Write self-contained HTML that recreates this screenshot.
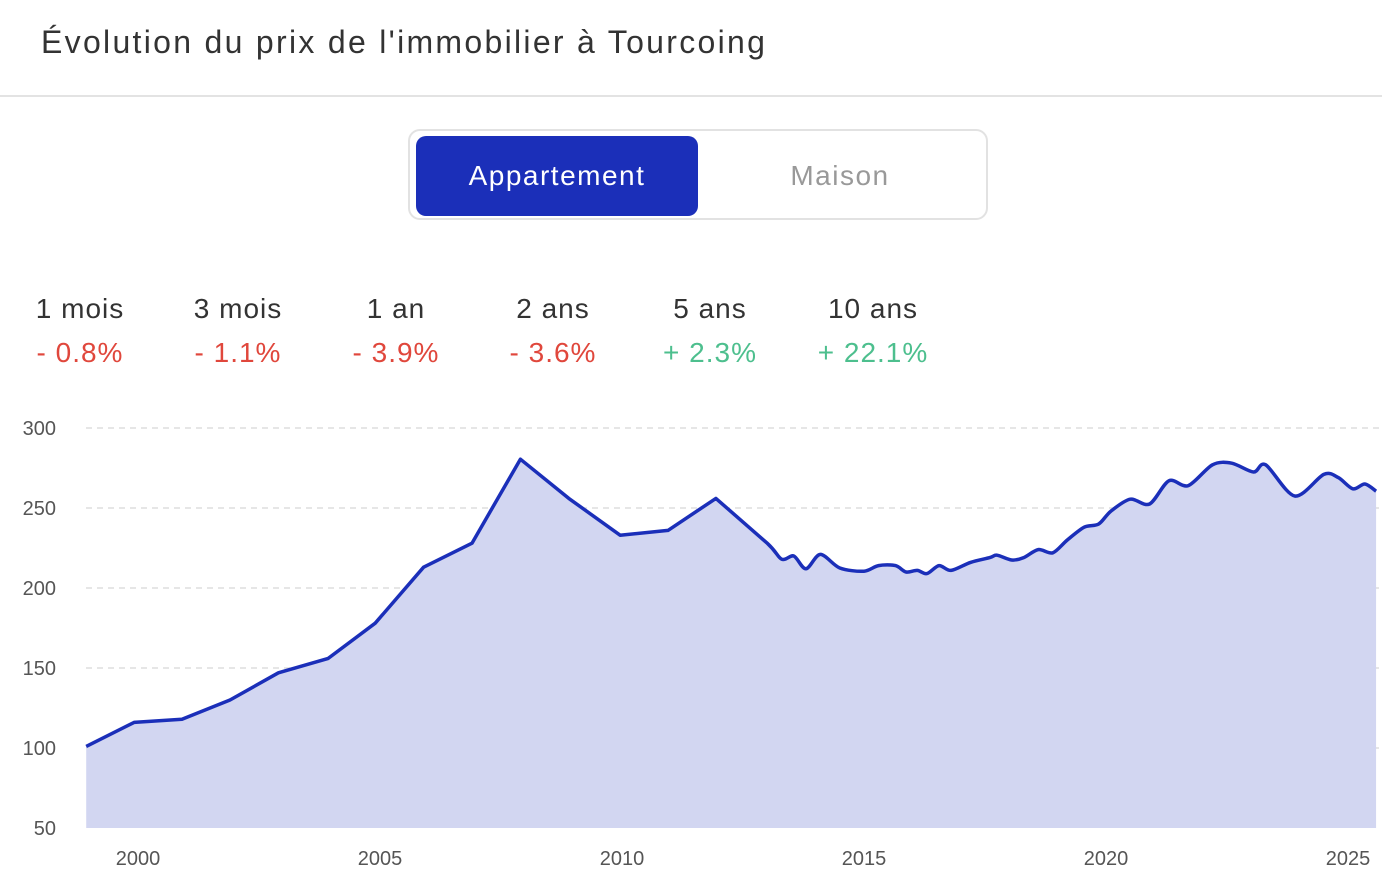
<!DOCTYPE html>
<html><head><meta charset="utf-8"><style>
body{margin:0;width:1382px;height:880px;background:#fff;font-family:"Liberation Sans",sans-serif;position:relative;overflow:hidden}
.title{position:absolute;left:41px;top:24px;font-size:32px;letter-spacing:2.3px;color:#333}
.sep{position:absolute;left:0;top:95px;width:1382px;height:2px;background:#e3e3e3}
.toggle{position:absolute;left:408px;top:129px;width:580px;height:91px;border:2px solid #e2e2e2;border-radius:12px;box-sizing:border-box}
.btn{position:absolute;top:5px;height:80px;border-radius:10px;font-size:28px;display:flex;align-items:center;justify-content:center;letter-spacing:1.5px}
.on{left:6px;width:282px;background:#1b2fb9;color:#fff}
.off{left:290px;width:280px;color:#999}
.stat{position:absolute;top:293px;text-align:center;font-size:28px;letter-spacing:1px}
.stat .l{color:#333}.stat .v{margin-top:12px}
.neg{color:#e0473c}.pos{color:#4dbf8e}
</style></head><body>
<div class="title">Évolution du prix de l'immobilier à Tourcoing</div>
<div class="sep"></div>
<div class="toggle">
<div class="btn on">Appartement</div>
<div class="btn off">Maison</div>
</div>
<div class="stat" style="left:24px;width:112px"><div class="l">1 mois</div><div class="v neg">- 0.8%</div></div>
<div class="stat" style="left:182px;width:112px"><div class="l">3 mois</div><div class="v neg">- 1.1%</div></div>
<div class="stat" style="left:340px;width:112px"><div class="l">1 an</div><div class="v neg">- 3.9%</div></div>
<div class="stat" style="left:497px;width:112px"><div class="l">2 ans</div><div class="v neg">- 3.6%</div></div>
<div class="stat" style="left:654px;width:112px"><div class="l">5 ans</div><div class="v pos">+ 2.3%</div></div>
<div class="stat" style="left:812px;width:122px"><div class="l">10 ans</div><div class="v pos">+ 22.1%</div></div>
<svg id="chart" width="1382" height="880" style="position:absolute;left:0;top:0"></svg>
<script>
const years=[1998.93,1999.92,2000.91,2001.9,2002.9,2003.93,2004.9,2005.9,2006.9,2007.9,2008.9,2009.96,2010.95,2011.94,2013.0,2013.3,2013.55,2013.8,2014.1,2014.5,2015,2015.3,2015.65,2015.87,2016.1,2016.3,2016.55,2016.8,2017.2,2017.6,2017.75,2018.05,2018.3,2018.6,2018.9,2019.2,2019.55,2019.85,2020.1,2020.5,2020.9,2021.3,2021.7,2022.2,2022.6,2023.05,2023.3,2023.9,2024.5,2024.8,2025.1,2025.35,2025.58];
const prices=[101,116,118,130,147,156,178,213,228,280.5,256,233,236,256,228,218,220,212,221,212.5,210.5,214,214,210,211,209,214,211,216,219,220.5,217.5,219,224,222,230,238,240,248,255.5,252.5,267,264,277,278,272.5,277,257.5,271,269,262,265,260.5];
const yTicks=[50,100,150,200,250,300];
const xTicks=[2000,2005,2010,2015,2020,2025];
const NS="http://www.w3.org/2000/svg";
const svg=document.getElementById('chart');
const X=y=>138+(y-2000)*48.4;
const Y=v=>828-(v-50)*1.6;
function mk(t,a){const e=document.createElementNS(NS,t);for(const k in a)e.setAttribute(k,a[k]);svg.appendChild(e);return e;}
yTicks.forEach(v=>{
 if(v>50){const g=mk('line',{x1:86,x2:1382,y1:Y(v),y2:Y(v),stroke:'#ddd','stroke-width':1.5,'stroke-dasharray':'6 5'});
 
 }
 const t=mk('text',{x:56,y:Y(v)+7,'text-anchor':'end','font-size':20,fill:'#555','font-family':'Liberation Sans'});t.textContent=v;
 
 
});
xTicks.forEach(v=>{
 const t=mk('text',{x:X(v),y:865,'text-anchor':'middle','font-size':20,fill:'#555','font-family':'Liberation Sans'});t.textContent=v;
 
 
});
const pts=years.map((y,i)=>[X(y),Y(prices[i])]);
let d='M'+pts[0][0].toFixed(1)+','+pts[0][1].toFixed(1);
for(let i=0;i<pts.length-1;i++){
 const k=years[i]>=2013?0.15:0;
 const p0=pts[Math.max(i-1,0)],p1=pts[i],p2=pts[i+1],p3=pts[Math.min(i+2,pts.length-1)];
 const c1=[p1[0]+(p2[0]-p0[0])*k,p1[1]+(p2[1]-p0[1])*k];
 const c2=[p2[0]-(p3[0]-p1[0])*k,p2[1]-(p3[1]-p1[1])*k];
 d+='C'+c1[0].toFixed(1)+','+c1[1].toFixed(1)+' '+c2[0].toFixed(1)+','+c2[1].toFixed(1)+' '+p2[0].toFixed(1)+','+p2[1].toFixed(1);
}
const area=mk('path',{d:d+'L'+X(years[years.length-1])+','+Y(50)+'L'+X(years[0])+','+Y(50)+'Z',fill:'#d2d6f1'});


const line=mk('path',{d:d,fill:'none',stroke:'#1b2fb9','stroke-width':3.5,'stroke-linejoin':'round'});


</script>
</body></html>
